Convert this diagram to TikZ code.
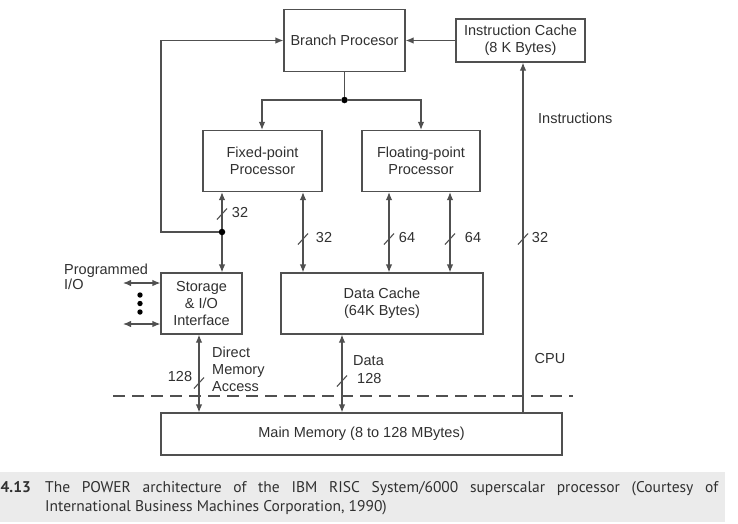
\documentclass[tikz,border=0pt]{standalone}
\usepackage{fontspec}
\setmainfont{Liberation Sans}
\newfontfamily\capfont{PT Sans}
\usetikzlibrary{arrows.meta,calc}
\definecolor{ln}{HTML}{505050}
\definecolor{tx}{HTML}{303030}
\definecolor{band}{HTML}{EBEBEB}
\begin{document}
\begin{tikzpicture}[x=1pt,y=-1pt,
  every node/.style={text=tx,font=\fontsize{14.5}{17}\selectfont},
  blk/.style={draw=ln,line width=1.2pt,align=center,inner sep=0pt},
  wire/.style={draw=ln,line width=1.2pt},
  arr/.style={wire,-{Latex[length=8pt,width=6.5pt]}},
  darr/.style={wire,{Latex[length=8pt,width=6.5pt]}-{Latex[length=8pt,width=6.5pt]}},
  slashmark/.style={draw=ln,line width=1.1pt},
  lbl/.style={inner sep=0pt},
  junc/.style={circle,fill=black,inner sep=0pt,minimum size=6.5pt}]
\useasboundingbox (0,0) rectangle (738,523);
\clip (0,0) rectangle (738,523);
\fill[white] (0,0) rectangle (738,523);

% boxes
\node[blk,minimum width=121pt,minimum height=62pt] (bp) at (344.5,40.5) {Branch Procesor};
\node[blk,minimum width=129pt,minimum height=43pt] (ic) at (520.5,40.5) {Instruction Cache\\(8 K Bytes)};
\node[blk,minimum width=119pt,minimum height=61pt] (fx) at (262.5,161) {Fixed-point\\Processor};
\node[blk,minimum width=118pt,minimum height=61pt] (fl) at (421,161) {Floating-point\\Processor};
\node[blk,minimum width=81pt,minimum height=61pt] (st) at (201.5,303.5) {Storage\\\& I/O\\Interface};
\node[blk,minimum width=202pt,minimum height=61pt] (dc) at (382,303.5) {Data Cache\\(64K Bytes)};
\node[blk,minimum width=401pt,minimum height=42pt] (mm) at (361.5,434) {Main Memory (8 to 128 MBytes)};

% coordinates for vertical buses
\coordinate (xa) at (222,0);
\coordinate (xb) at (303,0);
\coordinate (xc) at (389,0);
\coordinate (xd) at (450,0);
\coordinate (xe) at (523,0);
\coordinate (xs) at (199,0);
\coordinate (xm) at (342,0);
\coordinate (xl) at (161,0);
\coordinate (xf1) at (262,0);
\coordinate (xf2) at (421,0);

% instruction cache -> branch processor
\draw[arr] (ic.west) -- (bp.east);
% branch processor -> fixed / floating
\node[junc] (j1) at (bp.south |- 0,100) {};
\draw[wire] (bp.south) -- (j1);
\draw[arr] (j1) -| (fx.north -| xf1);
\draw[arr] (j1) -| (fl.north -| xf2);

% fixed point <-> storage, with junction feeding back to branch
\draw[darr] (fx.south -| xa) -- (st.north -| xa);
\node[junc] (j2) at (222,232) {};
\draw[arr] (j2) -- (xl |- j2) -- (xl |- bp.west) -- (bp.west);

% fixed / floating <-> data cache
\draw[darr] (fx.south -| xb) -- (dc.north -| xb);
\draw[darr] (fl.south -| xc) -- (dc.north -| xc);
\draw[darr] (fl.south -| xd) -- (dc.north -| xd);

% main memory -> instruction cache
\draw[arr] (mm.north -| xe) -- (ic.south -| xe);

% storage / data cache <-> main memory
\draw[darr] (st.south -| xs) -- (mm.north -| xs);
\draw[darr] (dc.south -| xm) -- (mm.north -| xm);

% programmed I/O
\coordinate (p1) at (123,283);
\coordinate (p2) at (123,324);
\draw[darr] (p1) -- (st.west |- p1);
\draw[darr] (p2) -- (st.west |- p2);
\foreach \yy in {295,303.5,312} \fill[black] (140,\yy) circle (2.7pt);
\node[lbl,anchor=west,align=left,font=\fontsize{14.5}{15}\selectfont] (pio) at (64,276.5) {Programmed\\I/O};

% bus width slashes
\foreach \sx/\sy in {222/214, 303/239, 389/239, 450/239, 523/239, 199/383, 342/381}
  \draw[slashmark] ($(\sx,\sy)+(-5,5.5)$) -- ($(\sx,\sy)+(5,-5.5)$);
\node[lbl] (w1) at (240,213) {32};
\node[lbl] (w2) at (324,238) {32};
\node[lbl] (w3) at (407,238) {64};
\node[lbl] (w4) at (473,238) {64};
\node[lbl] (w5) at (540,238) {32};
\node[lbl] (w6) at (180,376) {128};

% labels
\node[lbl,anchor=west] (ins) at (538,118) {Instructions};
\node[lbl] (cpu) at (550,358) {CPU};
\node[lbl,anchor=west,align=left] (dma) at (212,369) {Direct\\Memory\\Access};
\node[lbl,anchor=west] (dat) at (353,361) {Data};
\node[lbl,anchor=west] (d128) at (357,378) {128};

% CPU boundary
\draw[ln,line width=1.1pt,dash pattern=on 12pt off 7pt] (113,396) -- (573,396);

% caption
\fill[band] (0,472) rectangle (725,522);
\node[lbl,anchor=base west,font=\capfont\bfseries\fontsize{15.5}{19}\selectfont] (cnum) at (0.5,492) {4.13};
\node[lbl,anchor=base west,font=\capfont\fontsize{15.5}{19}\selectfont] (cap1) at (45,492)
  {\makebox[673pt][s]{The POWER architecture of the IBM RISC System/6000 superscalar processor (Courtesy of}};
\node[lbl,anchor=base west,font=\capfont\fontsize{15.5}{19}\selectfont] (cap2) at (45,511)
  {International Business Machines Corporation, 1990)};
\end{tikzpicture}
\end{document}
